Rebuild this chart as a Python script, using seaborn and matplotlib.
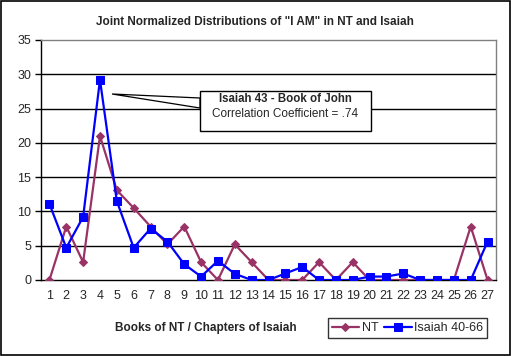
import matplotlib
matplotlib.use("Agg")
import matplotlib.pyplot as plt
import numpy as np
import pandas as pd
import seaborn as sns
from matplotlib.patches import Rectangle, Polygon

# chart data
chapters = list(range(1, 28))
nt_values = [0, 7.8, 2.6, 21.0, 13.1, 10.5, 7.8, 5.2, 7.8, 2.6, 0, 5.2, 2.6, 0,
             0, 0, 2.6, 0, 2.6, 0, 0, 0, 0, 0, 0, 7.8, 0]
isaiah_values = [11.1, 4.7, 9.2, 29.2, 11.5, 4.7, 7.5, 5.6, 2.3, 0.5, 2.8, 0.9, 0, 0,
                 0.95, 1.9, 0, 0, 0, 0.5, 0.5, 0.95, 0, 0, 0, 0, 5.6]
series_names = ["NT", "Isaiah 40-66"]
y_ticks = [0, 5, 10, 15, 20, 25, 30, 35]

title = 'Joint Normalized Distributions of "I AM" in NT and Isaiah'
x_label = "Books of NT / Chapters of Isaiah"
note_1 = "Isaiah 43 - Book of John"
note_2 = "Correlation Coefficient = .74"

df = pd.DataFrame({
    "chapter": chapters * 2,
    "value": nt_values + isaiah_values,
    "series": [series_names[0]] * len(chapters) + [series_names[1]] * len(chapters),
})

sns.set_style("white")
plt.rcParams['font.family'] = ['Liberation Sans', 'DejaVu Sans']

W, H = 511, 356
fig = plt.figure(figsize=(W / 100, H / 100), dpi=100)
fig.patch.set_facecolor("white")
fig.add_artist(Rectangle((0.001, 0.002), 0.997, 0.995, transform=fig.transFigure,
                         fill=False, edgecolor="black", linewidth=1.2))

ax = fig.add_axes([41 / W, 1 - 280 / H, (496 - 41) / W, (280 - 40) / H])

palette = {series_names[0]: "#993366", series_names[1]: "#0000FF"}
sns.lineplot(data=df[df.series == series_names[0]], x="chapter", y="value", ax=ax,
             color=palette[series_names[0]], marker="D", markersize=4.5,
             markeredgecolor=palette[series_names[0]], linewidth=1.6,
             label=series_names[0], zorder=3)
sns.lineplot(data=df[df.series == series_names[1]], x="chapter", y="value", ax=ax,
             color=palette[series_names[1]], marker="s", markersize=5.5,
             markeredgecolor=palette[series_names[1]], linewidth=1.6,
             label=series_names[1], zorder=4)

ax.set_xlim(0.5, 27.5)
ax.set_ylim(0, 35)
ax.set_yticks(y_ticks)
ax.set_yticklabels([str(v) for v in y_ticks], fontsize=9)
ax.set_xticks(chapters)
ax.set_xticklabels([str(c) for c in chapters], fontsize=9)
ax.set_xticks(np.arange(0.5, 28, 1), minor=True)
ax.tick_params(axis="x", which="major", length=0, pad=7)
ax.tick_params(axis="x", which="minor", length=4, width=1, color="black", direction="out")
ax.tick_params(axis="y", length=4, width=1, color="black", direction="out", pad=3, left=True)
ax.set_xlabel("")
ax.set_ylabel("")

for v in y_ticks[1:-1]:
    ax.axhline(v, color="black", linewidth=1, zorder=1)

for s in ["top", "right"]:
    ax.spines[s].set_color("#808080")
    ax.spines[s].set_linewidth(1)
for s in ["left", "bottom"]:
    ax.spines[s].set_color("black")
    ax.spines[s].set_linewidth(1)

fig.text(255 / W, 1 - 22 / H, title, ha="center", va="center", fontsize=8.5, fontweight="bold")
fig.text(206 / W, 1 - 328 / H, x_label, ha="center", va="center", fontsize=8.5, fontweight="bold")

leg = ax.legend(loc="center", bbox_to_anchor=(407.5 / W, 1 - 328 / H),
                bbox_transform=fig.transFigure, ncol=2, fontsize=9, frameon=True,
                fancybox=False, edgecolor="black", handlelength=2.2, columnspacing=0.5,
                handletextpad=0.2, borderpad=0.3)
leg.get_frame().set_linewidth(1)

# callout
tip = (112 / W, 1 - 94 / H)
wedge = Polygon([tip, (200 / W, 1 - 98 / H), (200 / W, 1 - 108 / H)], closed=True,
                transform=fig.transFigure, facecolor="white", edgecolor="black",
                linewidth=0.9, zorder=5)
fig.add_artist(wedge)
box = Rectangle((200 / W, 1 - 131 / H), 171 / W, 40 / H, transform=fig.transFigure,
                facecolor="white", edgecolor="black", linewidth=1, zorder=6)
fig.add_artist(box)
fig.text(285.5 / W, 1 - 99 / H, note_1, ha="center", va="center", fontsize=8.3,
         fontweight="bold", zorder=7)
fig.text(285.5 / W, 1 - 114 / H, note_2, ha="center", va="center", fontsize=8.5, zorder=7)

fig.savefig("out.png", dpi=100)
